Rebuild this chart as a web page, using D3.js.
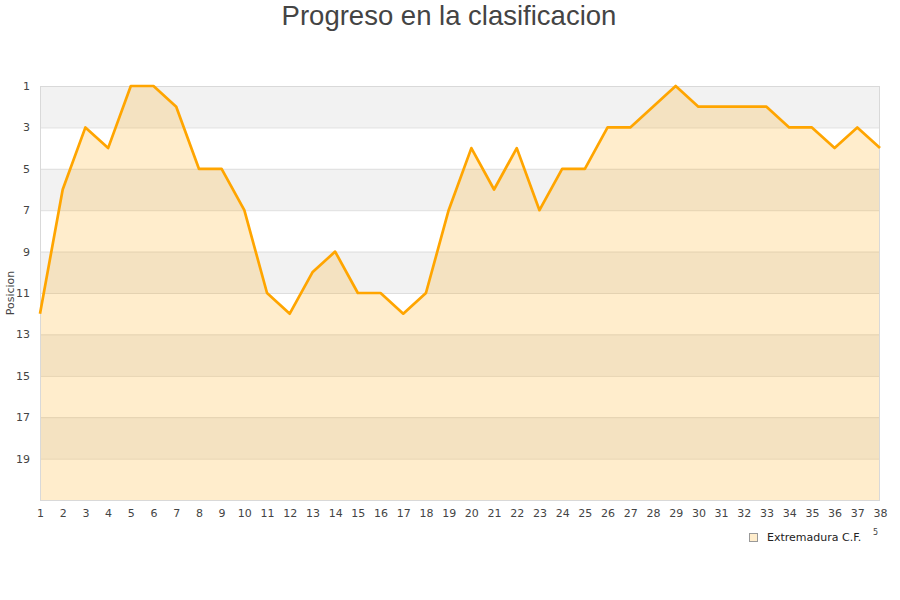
<!DOCTYPE html>
<html><head><meta charset="utf-8">
<script src="https://cdn.jsdelivr.net/npm/d3@7"></script>
<style>body{margin:0;background:#fff}svg{display:block}</style>
</head><body>
<svg id="c" width="900" height="600"></svg>
<script>
const jornadas = d3.range(1, 39);
const posiciones = [12,6,3,4,1,1,2,5,5,7,11,12,10,9,11,11,12,11,7,4,6,4,7,5,5,3,3,2,1,2,2,2,2,3,3,4,3,4];
const yTicks = [1,3,5,7,9,11,13,15,17,19];
const bandStarts = [1,5,9,13,17];
const seriesName = "Extremadura C.F.";
const titleText = "Progreso en la clasificacion";
const yLabel = "Posicion";

const svg = d3.select("#c");
const L = 40, R = 880, T = 86, B = 500;
const x = d3.scaleLinear().domain([1, 38]).range([L, R]);
const y = d3.scaleLinear().domain([1, 21]).range([T, B]);

// bands
svg.selectAll("rect.band").data(bandStarts).enter().append("rect")
  .attr("x", L).attr("width", R - L)
  .attr("y", d => y(d)).attr("height", d => y(d + 2) - y(d))
  .attr("fill", "#f2f2f2");

// grid
svg.selectAll("line.grid").data(yTicks).enter().append("line")
  .attr("x1", L).attr("x2", R).attr("y1", d => y(d) + 0.5).attr("y2", d => y(d) + 0.5)
  .attr("stroke", "#dedede").attr("stroke-width", 1);

// area
const data = jornadas.map((j, i) => ({j, p: posiciones[i]}));
svg.append("path").datum(data)
  .attr("d", d3.area().x(d => x(d.j)).y0(y(21)).y1(d => y(d.p)))
  .attr("fill", "#ffa500").attr("fill-opacity", 0.2);

// border
svg.append("rect").attr("x", L + 0.5).attr("y", T + 0.5).attr("width", R - L - 1).attr("height", B - T)
  .attr("fill", "none").attr("stroke", "#d9d9d9");

// line
svg.append("path").datum(data)
  .attr("d", d3.line().x(d => x(d.j)).y(d => y(d.p)))
  .attr("fill", "none").attr("stroke", "#ffa500").attr("stroke-width", 2.7)
  .attr("stroke-linejoin", "round");

// y axis
const yAxis = d3.axisLeft(y).tickValues(yTicks).tickSize(0).tickPadding(10);
const ga = svg.append("g").attr("transform", `translate(${L},0)`).call(yAxis);
ga.select(".domain").remove();
ga.selectAll("text").attr("font-family", "DejaVu Sans, sans-serif").attr("font-size", 11).attr("fill", "#444");

// x axis
const xAxis = d3.axisBottom(x).tickValues(jornadas).tickSize(0).tickPadding(9).tickFormat(d3.format("d"));
const gx = svg.append("g").attr("transform", `translate(0,${B})`).call(xAxis);
gx.select(".domain").remove();
gx.selectAll("text").attr("font-family", "DejaVu Sans, sans-serif").attr("font-size", 11).attr("fill", "#444");

// title
svg.append("text").attr("x", 449).attr("y", 25).attr("text-anchor", "middle")
  .attr("font-family", "Liberation Sans, Arial, sans-serif").attr("font-size", 27.5).attr("fill", "#444")
  .text(titleText);

// y label
svg.append("text").attr("transform", "translate(14,293) rotate(-90)").attr("text-anchor", "middle")
  .attr("font-family", "DejaVu Sans, sans-serif").attr("font-size", 11).attr("fill", "#444")
  .text(yLabel);

// legend
svg.append("rect").attr("x", 749.5).attr("y", 533.5).attr("width", 8).attr("height", 8)
  .attr("fill", "#ffedcc").attr("stroke", "#999");
svg.append("text").attr("x", 767).attr("y", 541)
  .attr("font-family", "DejaVu Sans, sans-serif").attr("font-size", 11).attr("fill", "#222")
  .text(seriesName);
svg.append("text").attr("x", 873).attr("y", 535)
  .attr("font-family", "DejaVu Sans, sans-serif").attr("font-size", 8).attr("fill", "#444")
  .text("5");
</script>
</body></html>
